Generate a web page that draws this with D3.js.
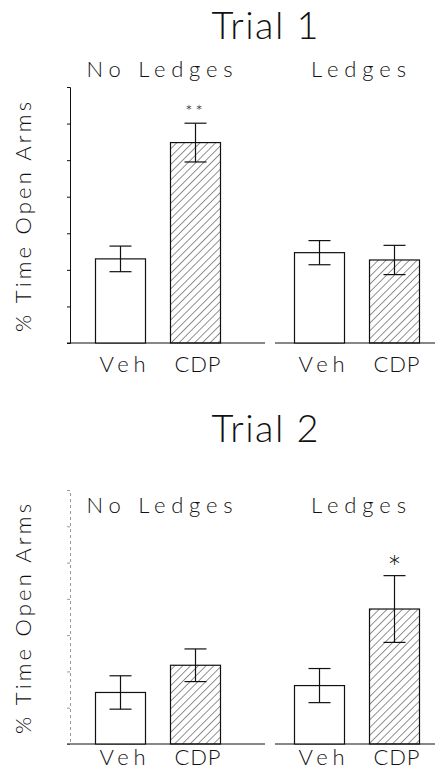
<!DOCTYPE html>
<html>
<head>
<meta charset="utf-8">
<script src="https://cdn.jsdelivr.net/npm/d3@7"></script>
<style>
  body { margin: 0; background: #fff; }
  svg text { font-family: "Lato", "DejaVu Sans", sans-serif; font-weight: 300; fill: #111; }
</style>
</head>
<body>
<div id="chart"></div>
<script>
// datos (unidades = marcas del eje, sin etiquetas)
const trials = ["Trial 1", "Trial 2"];
const conditions = ["No Ledges", "Ledges"];
const drugs = ["Veh", "CDP"];
const yTicks = [0, 1, 2, 3, 4, 5, 6, 7];

// orden: No Ledges Veh, No Ledges CDP, Ledges Veh, Ledges CDP
const trial1Mean = [2.30, 5.48, 2.47, 2.27];
const trial1Err  = [0.35, 0.53, 0.33, 0.40];
const trial1Sig  = ["", "**", "", ""];

const trial2Mean = [1.42, 2.17, 1.61, 3.72];
const trial2Err  = [0.46, 0.45, 0.47, 0.92];
const trial2Sig  = ["", "", "", "*"];

const width = 435, height = 771;

const svg = d3.select("#chart").append("svg")
    .attr("width", width)
    .attr("height", height);

// trama diagonal de las barras CDP
const defs = svg.append("defs");
defs.append("pattern")
    .attr("id", "hatch")
    .attr("patternUnits", "userSpaceOnUse")
    .attr("width", 5.5).attr("height", 5.5)
    .attr("patternTransform", "rotate(45)")
    .append("line")
    .attr("x1", 0).attr("y1", 0).attr("x2", 0).attr("y2", 5.5)
    .attr("stroke", "#222").attr("stroke-width", 1);

// escalas horizontales (compartidas)
const xGroup = d3.scaleBand().domain(conditions).range([58.5, 456.5]);
const xDrug = d3.scaleBand().domain(drugs).range([37, 162]).paddingInner(1 / 3);

// posiciones de cada panel
const panels = [
    { title: trials[0], mean: trial1Mean, err: trial1Err, sig: trial1Sig,
      top: 87, bottom: 343, titleY: 39, subY: 77, labelY: 372, faint: false },
    { title: trials[1], mean: trial2Mean, err: trial2Err, sig: trial2Sig,
      top: 490, bottom: 744, titleY: 442, subY: 513, labelY: 765, faint: true }
];

panels.forEach(p => {
    const g = svg.append("g");

    const y = d3.scaleLinear().domain([0, 7]).range([p.bottom, p.top]);

    // titulo del ensayo
    g.append("text")
        .attr("x", 265).attr("y", p.titleY)
        .attr("text-anchor", "middle")
        .attr("font-size", 38)
        .attr("textLength", 107).attr("lengthAdjust", "spacing")
        .text(p.title);

    // subtitulos de condicion
    conditions.forEach(c => {
        g.append("text")
            .attr("x", xGroup(c) + 101).attr("y", p.subY)
            .attr("text-anchor", "middle")
            .attr("font-size", 22)
            .attr("textLength", c === "Ledges" ? 95 : 146).attr("lengthAdjust", "spacing")
            .text(c);
    });

    // eje Y
    const yAxis = g.append("g")
        .attr("transform", "translate(70,0)")
        .call(d3.axisLeft(y).tickValues(yTicks).tickSize(3).tickFormat(""));
    yAxis.select(".domain").attr("stroke", p.faint ? "#999" : "#111")
        .attr("stroke-dasharray", p.faint ? "3,3" : null);
    yAxis.selectAll(".tick line").attr("stroke", p.faint ? "#999" : "#111");

    // titulo del eje Y
    g.append("text")
        .attr("transform", `translate(31,${(p.top + p.bottom) / 2 + 2}) rotate(-90)`)
        .attr("text-anchor", "middle")
        .attr("font-size", 22)
        .attr("textLength", 230).attr("lengthAdjust", "spacing")
        .text("% Time Open Arms");

    // lineas base (dos tramos)
    g.append("line")
        .attr("x1", 67).attr("x2", 265).attr("y1", p.bottom).attr("y2", p.bottom)
        .attr("stroke", "#111");
    g.append("line")
        .attr("x1", 275).attr("x2", 435).attr("y1", p.bottom).attr("y2", p.bottom)
        .attr("stroke", "#111");

    // barras
    const rows = [];
    conditions.forEach((c, ci) => drugs.forEach((d, di) => {
        const i = ci * 2 + di;
        rows.push({ cond: c, drug: d, mean: p.mean[i], err: p.err[i], sig: p.sig[i] });
    }));

    const bx = d => xGroup(d.cond) + xDrug(d.drug);
    const bw = xDrug.bandwidth();

    g.selectAll(".bar")
        .data(rows)
        .enter()
        .append("rect")
        .attr("class", "bar")
        .attr("x", bx)
        .attr("y", d => y(d.mean))
        .attr("width", bw)
        .attr("height", d => y(0) - y(d.mean))
        .attr("fill", d => d.drug === "CDP" ? "url(#hatch)" : "#fff")
        .attr("stroke", "#111")
        .attr("stroke-width", 1.2);

    // barras de error
    const eb = g.selectAll(".err").data(rows).enter().append("g");
    eb.append("line")
        .attr("x1", d => bx(d) + bw / 2).attr("x2", d => bx(d) + bw / 2)
        .attr("y1", d => y(d.mean + d.err)).attr("y2", d => y(d.mean - d.err))
        .attr("stroke", "#111").attr("stroke-width", 1.2);
    [1, -1].forEach(s => {
        eb.append("line")
            .attr("x1", d => bx(d) + bw / 2 - 11).attr("x2", d => bx(d) + bw / 2 + 11)
            .attr("y1", d => y(d.mean + s * d.err)).attr("y2", d => y(d.mean + s * d.err))
            .attr("stroke", "#111").attr("stroke-width", 1.2);
    });

    // asteriscos
    g.selectAll(".sig")
        .data(rows.filter(d => d.sig))
        .enter()
        .append("text")
        .attr("x", d => bx(d) + bw / 2)
        .attr("y", d => y(d.mean + d.err) + (d.sig === "*" ? 4 : -5))
        .attr("text-anchor", "middle")
        .attr("font-size", d => d.sig === "*" ? 34 : 17)
        .attr("font-weight", d => d.sig === "*" ? 400 : 300)
        .attr("letter-spacing", d => d.sig === "**" ? 3 : 0)
        .text(d => d.sig);

    // etiquetas Veh / CDP
    g.selectAll(".lab")
        .data(rows)
        .enter()
        .append("text")
        .attr("x", d => bx(d) + bw / 2 + 2)
        .attr("y", p.labelY)
        .attr("text-anchor", "middle")
        .attr("font-size", 22)
        .attr("textLength", 46).attr("lengthAdjust", "spacing")
        .text(d => d.drug);
});
</script>
</body>
</html>
